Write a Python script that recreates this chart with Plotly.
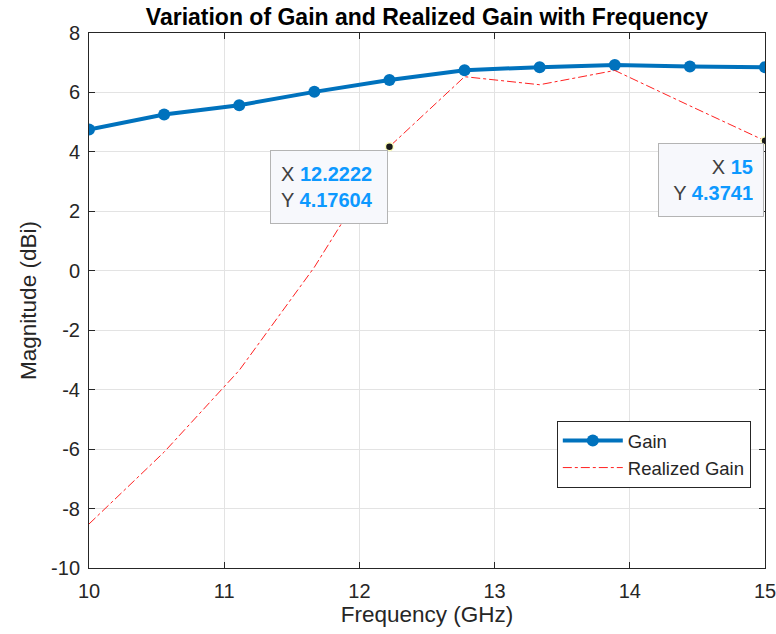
import plotly.graph_objects as go

freq = [10.0, 10.5556, 11.1111, 11.6667, 12.2222, 12.7778, 13.3333, 13.8889, 14.4444, 15.0]
gain = [4.75, 5.26, 5.57, 6.02, 6.42, 6.75, 6.85, 6.92, 6.87, 6.85]
realized = [-8.52, -6.1, -3.35, 0.12, 4.17604, 6.53, 6.26, 6.74, 5.55, 4.3741]
tip_idx = [4, 9]
tip_labels = ["12.2222", "15"]
tip_values = ["4.17604", "4.3741"]
xticks = [10, 11, 12, 13, 14, 15]
yticks = [-10, -8, -6, -4, -2, 0, 2, 4, 6, 8]

FONT = "Liberation Sans, Arial, sans-serif"
W, H = 776, 634
fig = go.Figure()
fig.add_trace(go.Scatter(x=freq, y=gain, mode="lines+markers", name="Gain",
                         line=dict(color="#0072BD", width=4),
                         marker=dict(color="#0072BD", size=12)))
fig.add_trace(go.Scatter(x=freq, y=realized, mode="lines", name="Realized Gain",
                         line=dict(color="#FF2020", width=1, dash="dashdot")))
fig.add_trace(go.Scatter(x=[freq[i] for i in tip_idx], y=[realized[i] for i in tip_idx],
                         mode="markers", showlegend=False,
                         marker=dict(color="#1a1a1a", size=8,
                                     line=dict(color="#ffffc0", width=1.5))))

aligns = ["left", "right"]
widths = [96, 84]
xshifts = [-1.5, -1.5]
yshifts = [-3, -2.5]
for k, i in enumerate(tip_idx):
    fig.add_annotation(
        x=freq[i], y=realized[i], xref="x", yref="y", showarrow=False,
        xanchor="right", yanchor="top", xshift=xshifts[k], yshift=yshifts[k], align=aligns[k],
        text=(f"<span style='color:#404040'>X </span><b style='color:#0d99ff'>{tip_labels[k]}</b><br>"
              f"<span style='color:#404040'>Y </span><b style='color:#0d99ff'>{tip_values[k]}</b>"),
        font=dict(family=FONT, size=20), bgcolor="#f7f8fc", bordercolor="#b4b4b4",
        borderwidth=1, borderpad=10, width=widths[k], height=52)

axis_common = dict(showgrid=True, gridcolor="#e3e3e3", gridwidth=1,
                   showline=True, linecolor="#262626", linewidth=1, mirror="ticks",
                   ticks="inside", ticklen=6, tickcolor="#262626",
                   tickfont=dict(family=FONT, size=20, color="#262626"),
                   zeroline=False, automargin=False, ticklabeloverflow="allow")
fig.update_xaxes(range=[10, 15], tickvals=xticks, ticktext=[str(v) for v in xticks],
                 ticklabelstandoff=5,
                 title=dict(text="Frequency (GHz)", font=dict(family=FONT, size=22.5, color="#262626"), standoff=0),
                 **axis_common)
fig.update_yaxes(range=[-10, 8], tickvals=yticks, ticktext=[str(v) for v in yticks],
                 ticklabelstandoff=4,
                 title=dict(text="Magnitude (dBi)", font=dict(family=FONT, size=22.5, color="#262626"), standoff=8),
                 **axis_common)

fig.update_layout(
    width=W, height=H, paper_bgcolor="white", plot_bgcolor="white",
    margin=dict(l=89, r=11, t=33, b=66),
    title=dict(text="<b>Variation of Gain and Realized Gain with Frequency</b>",
               x=(89 + 765) / 2 / W, xanchor="center", y=1 - 17 / H, yanchor="middle",
               font=dict(family=FONT, size=23, color="black")),
    legend=dict(x=0.979, y=(568 - 421) / 535, xanchor="right", yanchor="top",
                bgcolor="white", bordercolor="#262626", borderwidth=1,
                font=dict(family=FONT, size=18.5, color="#262626"),
                tracegroupgap=0, itemwidth=60),
    showlegend=True,
    hovermode=False,
)
fig.write_html("out.html", config={"displayModeBar": False},
               post_script="document.body.style.margin='0';")
